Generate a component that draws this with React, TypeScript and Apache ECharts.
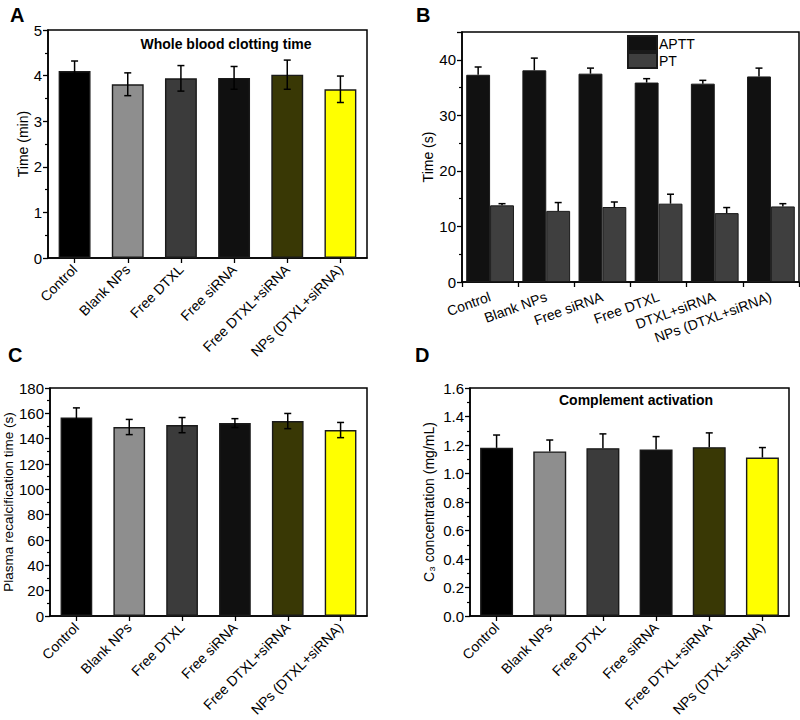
import React, { useEffect, useRef } from "react";
import * as echarts from "echarts";

const categories = ["Control", "Blank NPs", "Free DTXL", "Free siRNA", "Free DTXL+siRNA", "NPs (DTXL+siRNA)"];
const categoriesB = ["Control", "Blank NPs", "Free siRNA", "Free DTXL", "DTXL+siRNA", "NPs (DTXL+siRNA)"];
const barColors = ["#000000", "#8e8e8e", "#3b3b3b", "#101010", "#393805", "#ffff00"];

const clotTime = [4.1, 3.81, 3.94, 3.95, 4.02, 3.7];
const clotErr = [0.22, 0.25, 0.28, 0.25, 0.32, 0.29];

const apttValues = [37.3, 38.1, 37.5, 35.9, 35.7, 37.0];
const apttErr = [1.4, 2.2, 1.0, 0.7, 0.6, 1.5];
const ptValues = [13.8, 12.8, 13.5, 14.1, 12.4, 13.6];
const ptErr = [0.3, 1.5, 0.9, 1.7, 1.0, 0.5];

const recalcTime = [156.8, 149.2, 150.7, 152.3, 153.9, 146.8];
const recalcErr = [7.5, 6.0, 6.0, 3.5, 6.0, 6.0];

const c3Values = [1.18, 1.155, 1.178, 1.169, 1.185, 1.112];
const c3Err = [0.09, 0.08, 0.1, 0.09, 0.1, 0.07];

const FONT = "Liberation Sans, Arial, sans-serif";

function errRender(both: boolean, offsetFrac: number) {
  return (params: any, api: any) => {
    const idx = api.value(0);
    const v = api.value(1);
    const e = api.value(2);
    const pHi = api.coord([idx, v + e]);
    const pLo = api.coord([idx, both ? v - e : v]);
    const band = api.size([1, 0])[0];
    const cx = pHi[0] + band * offsetFrac;
    const cap = 3.5;
    const style = { stroke: "#000", lineWidth: 1.5 };
    const children: any[] = [
      { type: "line", shape: { x1: cx, y1: pHi[1], x2: cx, y2: pLo[1] }, style },
      { type: "line", shape: { x1: cx - cap, y1: pHi[1], x2: cx + cap, y2: pHi[1] }, style },
    ];
    if (both) {
      children.push({ type: "line", shape: { x1: cx - cap, y1: pLo[1], x2: cx + cap, y2: pLo[1] }, style });
    }
    return { type: "group", children };
  };
}

function yAxisDef(gi: number, min: number, max: number, interval: number, name: string, nameGap: number, nameSize: number, fmt?: (v: number) => string) {
  const ratio = max / interval;
  return {
    type: "value",
    gridIndex: gi,
    min,
    max,
    interval,
    name,
    nameLocation: "middle",
    nameGap,
    nameTextStyle: { fontFamily: FONT, fontSize: nameSize, color: "#000" },
    axisLine: { show: true, lineStyle: { color: "#000", width: 1.5 } },
    axisTick: { show: true, length: 5, lineStyle: { color: "#000", width: 1.3 } },
    minorTick: { show: true, splitNumber: 2, length: 3, lineStyle: { color: "#000", width: 1.2 } },
    splitLine: { show: false },
    axisLabel: {
      fontFamily: FONT,
      fontSize: 15,
      color: "#000",
      margin: 6,
      showMaxLabel: Math.abs(ratio - Math.round(ratio)) < 1e-6,
      formatter: fmt,
    },
  };
}

function xAxisDef(gi: number, cats: string[], rotate: number, alignWithLabel: boolean, fontSize: number, margin: number) {
  return {
    type: "category",
    gridIndex: gi,
    data: cats,
    axisLine: { show: true, lineStyle: { color: "#000", width: 1.5 } },
    axisTick: { show: true, alignWithLabel, length: 5, lineStyle: { color: "#000", width: 1.3 } },
    axisLabel: { fontFamily: FONT, fontSize, color: "#000", rotate, margin, interval: 0 },
  };
}

function barSeries(gi: number, values: number[], gap: string) {
  return {
    type: "bar",
    xAxisIndex: gi,
    yAxisIndex: gi,
    barCategoryGap: gap,
    data: values.map((v, i) => ({
      value: v,
      itemStyle: { color: barColors[i], borderColor: "#1a1a1a", borderWidth: 1.4 },
    })),
  };
}

function errSeries(gi: number, values: number[], errs: number[], both: boolean, offset: number) {
  return {
    type: "custom",
    xAxisIndex: gi,
    yAxisIndex: gi,
    renderItem: errRender(both, offset),
    encode: { x: 0, y: 1 },
    data: values.map((v, i) => [i, v, errs[i]]),
    z: 10,
  };
}

export default function App() {
  const ref = useRef<HTMLDivElement>(null);
  useEffect(() => {
    if (!ref.current) return;
    const chart = echarts.init(ref.current, null, { renderer: "svg" });
    const gridBase = {
      show: true,
      borderColor: "#000",
      borderWidth: 1.5,
      backgroundColor: "transparent",
      containLabel: false,
      outerBoundsMode: "none",
    };
    const bFrac = 0.85 / 4;
    const option: any = {
      animation: false,
      backgroundColor: "#fff",
      textStyle: { fontFamily: FONT },
      grid: [
        { ...gridBase, left: 48, top: 30, width: 319, height: 228 },
        { ...gridBase, left: 462, top: 32, width: 337, height: 250 },
        { ...gridBase, left: 50, top: 388, width: 317, height: 228 },
        { ...gridBase, left: 470, top: 388, width: 319, height: 228 },
      ],
      legend: {
        orient: "vertical",
        left: 627,
        top: 35,
        itemWidth: 29,
        itemHeight: 15,
        itemGap: 0,
        padding: 0,
        textStyle: { fontFamily: FONT, fontSize: 14, color: "#000", padding: [0, 0, 0, -3] },
        data: [
          { name: "APTT", icon: "rect" },
          { name: "PT", icon: "rect" },
        ],
      },
      xAxis: [
        xAxisDef(0, categories, 45, true, 14, 9),
        xAxisDef(1, categoriesB, 20, false, 14, 14),
        xAxisDef(2, categories, 45, true, 14, 9),
        xAxisDef(3, categories, 45, true, 14, 9),
      ],
      yAxis: [
        yAxisDef(0, 0, 5, 1, "Time (min)", 18, 14),
        yAxisDef(1, 0, 45, 10, "Time (s)", 25, 14),
        yAxisDef(2, 0, 180, 20, "Plasma recalcification time (s)", 34, 13.5),
        yAxisDef(3, 0, 1.6, 0.2, "C\u2083 concentration (mg/mL)", 34, 14, (v: number) => v.toFixed(1)),
      ],
      series: [
        barSeries(0, clotTime, "40%"),
        errSeries(0, clotTime, clotErr, true, 0),
        {
          type: "bar",
          name: "APTT",
          xAxisIndex: 1,
          yAxisIndex: 1,
          barCategoryGap: "15%",
          barGap: "0%",
          data: apttValues,
          itemStyle: { color: "#111111", borderColor: "#1a1a1a", borderWidth: 1 },
        },
        {
          type: "bar",
          name: "PT",
          xAxisIndex: 1,
          yAxisIndex: 1,
          barCategoryGap: "15%",
          barGap: "0%",
          data: ptValues,
          itemStyle: { color: "#3f3f3f", borderColor: "#1a1a1a", borderWidth: 1 },
        },
        errSeries(1, apttValues, apttErr, false, -bFrac),
        errSeries(1, ptValues, ptErr, false, bFrac),
        barSeries(2, recalcTime, "40%"),
        errSeries(2, recalcTime, recalcErr, true, 0),
        barSeries(3, c3Values, "38%"),
        errSeries(3, c3Values, c3Err, false, 0),
      ],
      graphic: [
        { type: "text", left: 10, top: 5, style: { text: "A", font: `bold 20px ${FONT}`, fill: "#000" } },
        { type: "text", left: 416, top: 5, style: { text: "B", font: `bold 20px ${FONT}`, fill: "#000" } },
        { type: "text", left: 8, top: 345, style: { text: "C", font: `bold 20px ${FONT}`, fill: "#000" } },
        { type: "text", left: 415, top: 345, style: { text: "D", font: `bold 20px ${FONT}`, fill: "#000" } },
        {
          type: "text",
          x: 226,
          y: 44,
          style: { text: "Whole blood clotting time", font: `bold 14px ${FONT}`, fill: "#000", align: "center", verticalAlign: "middle" },
        },
        {
          type: "text",
          x: 636,
          y: 400,
          style: { text: "Complement activation", font: `bold 14px ${FONT}`, fill: "#000", align: "center", verticalAlign: "middle" },
        },
      ],
    };
    chart.setOption(option);
    return () => chart.dispose();
  }, []);
  return <div ref={ref} style={{ position: "fixed", left: 0, top: 0, width: 800, height: 720 }} />;
}
